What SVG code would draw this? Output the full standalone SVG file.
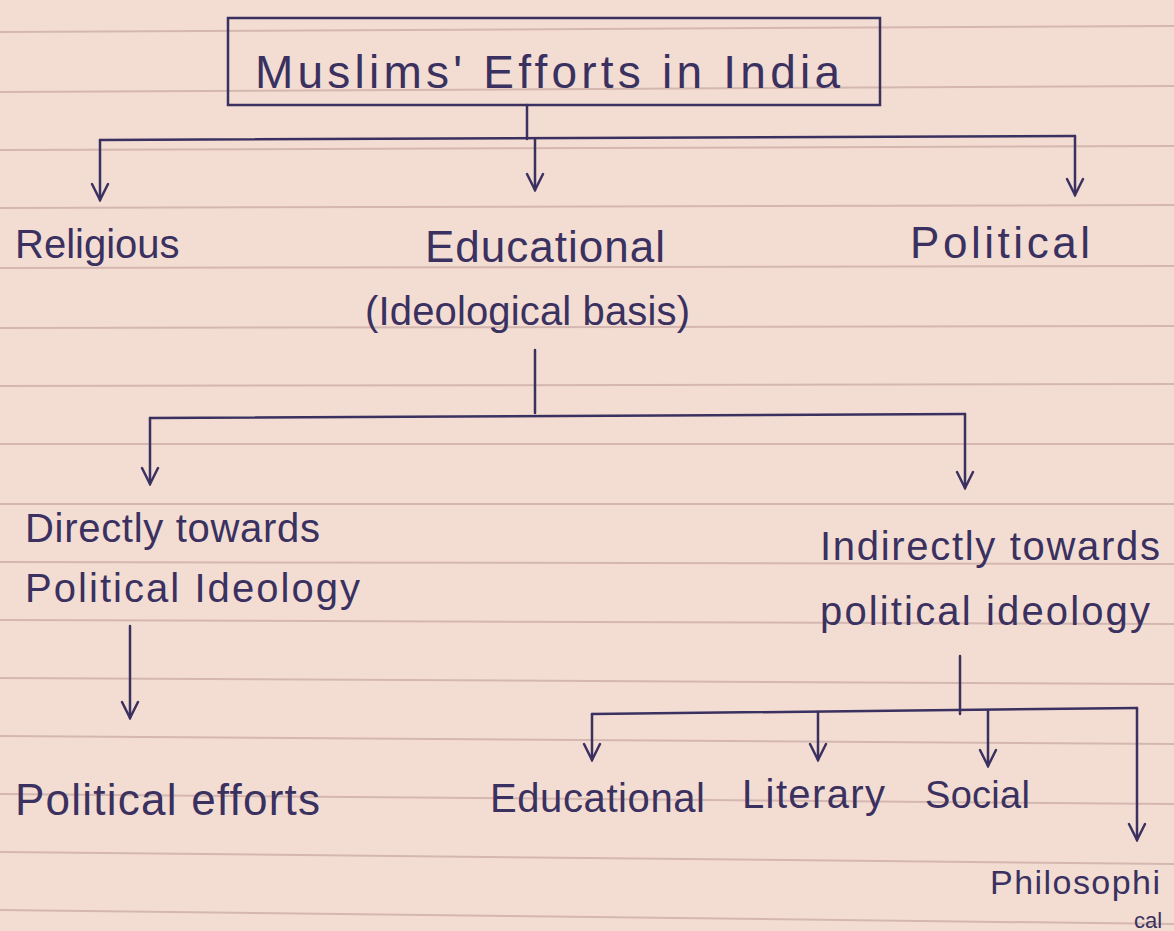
<svg xmlns="http://www.w3.org/2000/svg" width="1174" height="931" viewBox="0 0 1174 931">
<style>
.t{font-family:"Liberation Sans","DejaVu Sans",sans-serif;fill:#3a3160}
.c{fill:none;stroke:#3a3160;stroke-width:2.5;stroke-linecap:round;stroke-linejoin:round}
.rule{stroke:#d4b7b0;stroke-width:2}
</style>
<defs>
<marker id="v" viewBox="0 0 20 20" refX="18" refY="10" markerWidth="20" markerHeight="20" markerUnits="userSpaceOnUse" orient="auto">
<path d="M2,2 L18,10 L2,18" fill="none" stroke="#3a3160" stroke-width="2.5" stroke-linecap="round"/>
</marker>
</defs>
<rect width="1174" height="931" fill="#f3ddd3"/>
<g id="paper">
<line class="rule" x1="0" y1="32" x2="1174" y2="26"/>
<line class="rule" x1="0" y1="92" x2="1174" y2="86"/>
<line class="rule" x1="0" y1="150" x2="1174" y2="146"/>
<line class="rule" x1="0" y1="208" x2="1174" y2="205"/>
<line class="rule" x1="0" y1="268" x2="1174" y2="266"/>
<line class="rule" x1="0" y1="328" x2="1174" y2="326"/>
<line class="rule" x1="0" y1="386" x2="1174" y2="384"/>
<line class="rule" x1="0" y1="444" x2="1174" y2="444"/>
<line class="rule" x1="0" y1="504" x2="1174" y2="504"/>
<line class="rule" x1="0" y1="562" x2="1174" y2="564"/>
<line class="rule" x1="0" y1="620" x2="1174" y2="624"/>
<line class="rule" x1="0" y1="678" x2="1174" y2="684"/>
<line class="rule" x1="0" y1="736" x2="1174" y2="744"/>
<line class="rule" x1="0" y1="794" x2="1174" y2="804"/>
<line class="rule" x1="0" y1="852" x2="1174" y2="864"/>
<line class="rule" x1="0" y1="910" x2="1174" y2="924"/>
</g>
<g id="connectors">
<path class="c" d="M527,105 L527,139"/>
<path class="c" d="M100,140 L1075,136"/>
<path class="c" d="M100,140 L100,200" marker-end="url(#v)"/>
<path class="c" d="M535,139 L535,190" marker-end="url(#v)"/>
<path class="c" d="M1075,136 L1075,195" marker-end="url(#v)"/>
<path class="c" d="M535,350 L535,413"/>
<path class="c" d="M150,418 L965,414"/>
<path class="c" d="M150,418 L150,484" marker-end="url(#v)"/>
<path class="c" d="M965,414 L965,488" marker-end="url(#v)"/>
<path class="c" d="M130,626 L130,718" marker-end="url(#v)"/>
<path class="c" d="M960,656 L960,714"/>
<path class="c" d="M592,714 L1137,708"/>
<path class="c" d="M592,714 L592,760" marker-end="url(#v)"/>
<path class="c" d="M818,712 L818,760" marker-end="url(#v)"/>
<path class="c" d="M988,710 L988,766" marker-end="url(#v)"/>
<path class="c" d="M1137,708 L1137,840" marker-end="url(#v)"/>
</g>
<g id="root">
<rect x="228" y="18" width="652" height="87" fill="none" stroke="#3a3160" stroke-width="2.5"/>
<text class="t" x="255" y="88" font-size="46" textLength="585" lengthAdjust="spacing">Muslims' Efforts in India</text>
</g>
<g id="religious"><text class="t" x="15" y="258" font-size="40">Religious</text></g>
<g id="educational"><text class="t" x="425" y="262" font-size="44" textLength="240" lengthAdjust="spacing">Educational</text>
<text class="t" x="365" y="325" font-size="40" textLength="325" lengthAdjust="spacing">(Ideological basis)</text></g>
<g id="political"><text class="t" x="910" y="258" font-size="44" textLength="180" lengthAdjust="spacing">Political</text></g>
<g id="directly"><text class="t" x="25" y="542" font-size="40" textLength="295" lengthAdjust="spacing">Directly towards</text>
<text class="t" x="25" y="602" font-size="40" textLength="335" lengthAdjust="spacing">Political Ideology</text></g>
<g id="indirectly"><text class="t" x="820" y="560" font-size="40" textLength="340" lengthAdjust="spacing">Indirectly towards</text>
<text class="t" x="820" y="625" font-size="40" textLength="330" lengthAdjust="spacing">political ideology</text></g>
<g id="political-efforts"><text class="t" x="15" y="815" font-size="44" textLength="305" lengthAdjust="spacing">Political efforts</text></g>
<g id="educational2"><text class="t" x="490" y="812" font-size="40" textLength="215" lengthAdjust="spacing">Educational</text></g>
<g id="literary"><text class="t" x="742" y="808" font-size="40" textLength="143" lengthAdjust="spacing">Literary</text></g>
<g id="social"><text class="t" x="925" y="808" font-size="38" textLength="105" lengthAdjust="spacing">Social</text></g>
<g id="philosophical"><text class="t" x="990" y="894" font-size="34" textLength="170" lengthAdjust="spacing">Philosophi</text>
<text class="t" x="1134" y="928" font-size="22">cal</text></g>
</svg>
